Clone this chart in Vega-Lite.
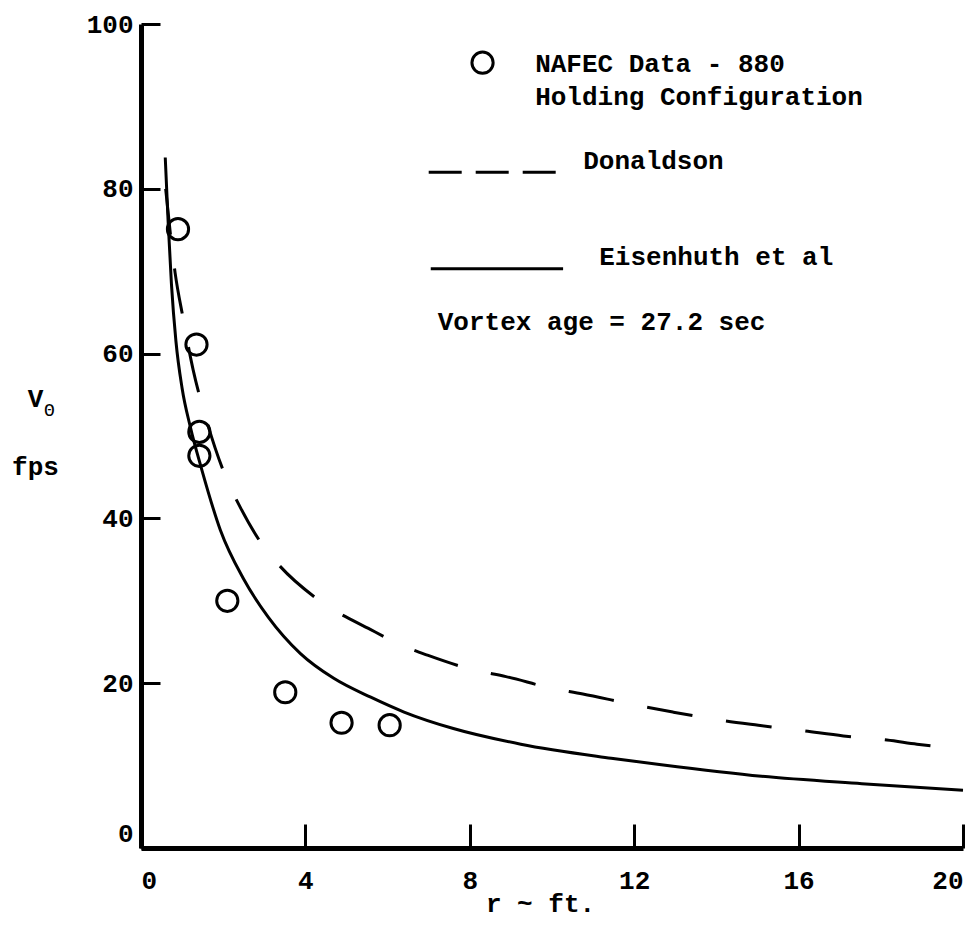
{
  "$schema": "https://vega.github.io/schema/vega-lite/v6.json",
  "width": 822,
  "height": 824,
  "autosize": {"type": "none"},
  "padding": {"left": 141, "top": 24, "right": 11, "bottom": 82},
  "background": "white",
  "config": {"view": {"stroke": null}, "font": "Liberation Mono"},
  "datasets": {
    "nafec": [
      {"r": 0.9, "v": 75.1},
      {"r": 1.35, "v": 61.1},
      {"r": 1.42, "v": 50.5},
      {"r": 1.42, "v": 47.6},
      {"r": 2.1, "v": 30.0},
      {"r": 3.51, "v": 18.9},
      {"r": 4.88, "v": 15.2},
      {"r": 6.05, "v": 14.9}
    ],
    "donaldson": [
      {"r": 0.6, "v": 80.0},
      {"r": 0.83, "v": 69.8},
      {"r": 1.02, "v": 64.4},
      {"r": 1.27, "v": 58.0},
      {"r": 1.56, "v": 52.5},
      {"r": 2.09, "v": 44.7},
      {"r": 2.41, "v": 41.4},
      {"r": 2.94, "v": 36.9},
      {"r": 3.31, "v": 34.6},
      {"r": 4.32, "v": 30.1},
      {"r": 5.59, "v": 26.5},
      {"r": 6.39, "v": 24.5},
      {"r": 6.97, "v": 23.4},
      {"r": 8.1, "v": 21.6},
      {"r": 8.88, "v": 20.8},
      {"r": 9.98, "v": 19.4},
      {"r": 10.75, "v": 18.7},
      {"r": 11.88, "v": 17.5},
      {"r": 12.94, "v": 16.5},
      {"r": 14.12, "v": 15.5},
      {"r": 15.02, "v": 14.9},
      {"r": 16.15, "v": 14.2},
      {"r": 17.09, "v": 13.6},
      {"r": 18.15, "v": 13.1},
      {"r": 18.88, "v": 12.6},
      {"r": 20.0, "v": 12.0}
    ],
    "eisenhuth": [
      {"r": 0.59, "v": 83.8},
      {"r": 0.66, "v": 76.0},
      {"r": 0.74, "v": 68.5},
      {"r": 0.85, "v": 61.5},
      {"r": 1.0, "v": 55.8},
      {"r": 1.2, "v": 51.1},
      {"r": 1.48, "v": 45.9},
      {"r": 1.93, "v": 38.6},
      {"r": 2.49, "v": 32.7},
      {"r": 3.1, "v": 28.0},
      {"r": 3.88, "v": 23.6},
      {"r": 4.69, "v": 20.6},
      {"r": 5.59, "v": 18.3},
      {"r": 6.4, "v": 16.5},
      {"r": 7.6, "v": 14.5},
      {"r": 9.24, "v": 12.6},
      {"r": 11.44, "v": 10.9},
      {"r": 12.66, "v": 10.1},
      {"r": 15.1, "v": 8.7},
      {"r": 17.54, "v": 7.8},
      {"r": 20.0, "v": 7.0}
    ],
    "one": [{}]
  },
  "layer": [
    {
      "data": {"name": "nafec"},
      "mark": {"type": "point", "shape": "circle", "filled": false, "stroke": "black", "strokeWidth": 3, "size": 450, "opacity": 1},
      "encoding": {
        "x": {
          "field": "r", "type": "quantitative",
          "scale": {"domain": [0, 20], "nice": false, "zero": false},
          "axis": {
            "values": [0, 4, 8, 12, 16, 20],
            "grid": false,
            "domainColor": "black", "domainWidth": 5,
            "tickColor": "black", "tickWidth": 3, "tickSize": -24,
            "labelFont": "Liberation Mono", "labelFontSize": 26, "labelFontWeight": "bold", "labelColor": "black",
            "labelPadding": 43, "labelFlush": true,
            "title": "r ~ ft.",
            "titleFont": "Liberation Mono", "titleFontSize": 26, "titleFontWeight": "bold", "titleColor": "black",
            "titleX": 399, "titleY": 55, "titleBaseline": "middle", "titleAnchor": null
          }
        },
        "y": {
          "field": "v", "type": "quantitative",
          "scale": {"domain": [0, 100], "nice": false},
          "axis": {
            "values": [0, 20, 40, 60, 80, 100],
            "grid": false,
            "domainColor": "black", "domainWidth": 5,
            "tickColor": "black", "tickWidth": 3, "tickSize": -19,
            "labelFont": "Liberation Mono", "labelFontSize": 26, "labelFontWeight": "bold", "labelColor": "black",
            "labelPadding": 27,
            "labelOffset": {"condition": {"test": "datum.value === 0", "value": -15}, "value": 0},
            "title": ["V", "fps"],
            "titleFont": "Liberation Mono", "titleFontSize": 26, "titleFontWeight": "bold", "titleColor": "black",
            "titleAngle": 0, "titleAlign": "center", "titleBaseline": "top", "titleLineHeight": 68,
            "titleX": -106, "titleY": 361
          }
        }
      }
    },
    {
      "data": {"name": "donaldson"},
      "mark": {"type": "line", "interpolate": "monotone", "stroke": "black", "strokeWidth": 3, "strokeDash": [46, 34]},
      "encoding": {
        "x": {"field": "r", "type": "quantitative"},
        "y": {"field": "v", "type": "quantitative"}
      }
    },
    {
      "data": {"name": "eisenhuth"},
      "mark": {"type": "line", "interpolate": "monotone", "stroke": "black", "strokeWidth": 3},
      "encoding": {
        "x": {"field": "r", "type": "quantitative"},
        "y": {"field": "v", "type": "quantitative"}
      }
    },
    {
      "data": {"name": "one"},
      "mark": {"type": "point", "shape": "circle", "filled": false, "stroke": "black", "strokeWidth": 3, "size": 450, "opacity": 1},
      "encoding": {
        "x": {"datum": 8.31, "type": "quantitative"},
        "y": {"datum": 95.3, "type": "quantitative"}
      }
    },
    {
      "data": {"name": "one"},
      "mark": {"type": "text", "text": "NAFEC Data - 880", "align": "left", "baseline": "middle", "font": "Liberation Mono", "fontSize": 26, "fontWeight": "bold", "color": "black"},
      "encoding": {
        "x": {"datum": 9.59, "type": "quantitative"},
        "y": {"datum": 95.1, "type": "quantitative"}
      }
    },
    {
      "data": {"name": "one"},
      "mark": {"type": "text", "text": "Holding Configuration", "align": "left", "baseline": "middle", "font": "Liberation Mono", "fontSize": 26, "fontWeight": "bold", "color": "black"},
      "encoding": {
        "x": {"datum": 9.59, "type": "quantitative"},
        "y": {"datum": 91.2, "type": "quantitative"}
      }
    },
    {
      "data": {"name": "one"},
      "mark": {"type": "rule", "stroke": "black", "strokeWidth": 3, "strokeDash": [33, 14]},
      "encoding": {
        "x": {"datum": 7.0, "type": "quantitative"},
        "x2": {"datum": 10.1},
        "y": {"datum": 82.0, "type": "quantitative"}
      }
    },
    {
      "data": {"name": "one"},
      "mark": {"type": "text", "text": "Donaldson", "align": "left", "baseline": "middle", "font": "Liberation Mono", "fontSize": 26, "fontWeight": "bold", "color": "black"},
      "encoding": {
        "x": {"datum": 10.76, "type": "quantitative"},
        "y": {"datum": 83.4, "type": "quantitative"}
      }
    },
    {
      "data": {"name": "one"},
      "mark": {"type": "rule", "stroke": "black", "strokeWidth": 3},
      "encoding": {
        "x": {"datum": 7.05, "type": "quantitative"},
        "x2": {"datum": 10.27},
        "y": {"datum": 70.3, "type": "quantitative"}
      }
    },
    {
      "data": {"name": "one"},
      "mark": {"type": "text", "text": "Eisenhuth et al", "align": "left", "baseline": "middle", "font": "Liberation Mono", "fontSize": 26, "fontWeight": "bold", "color": "black"},
      "encoding": {
        "x": {"datum": 11.15, "type": "quantitative"},
        "y": {"datum": 71.7, "type": "quantitative"}
      }
    },
    {
      "data": {"name": "one"},
      "mark": {"type": "text", "text": "Vortex age = 27.2 sec", "align": "left", "baseline": "middle", "font": "Liberation Mono", "fontSize": 26, "fontWeight": "bold", "color": "black"},
      "encoding": {
        "x": {"datum": 7.22, "type": "quantitative"},
        "y": {"datum": 63.8, "type": "quantitative"}
      }
    },
    {
      "data": {"name": "one"},
      "mark": {"type": "text", "text": "Θ", "align": "center", "baseline": "middle", "font": "Liberation Mono", "fontSize": 18, "color": "black"},
      "encoding": {
        "x": {"datum": -2.23, "type": "quantitative"},
        "y": {"datum": 53.0, "type": "quantitative"}
      }
    }
  ]
}
